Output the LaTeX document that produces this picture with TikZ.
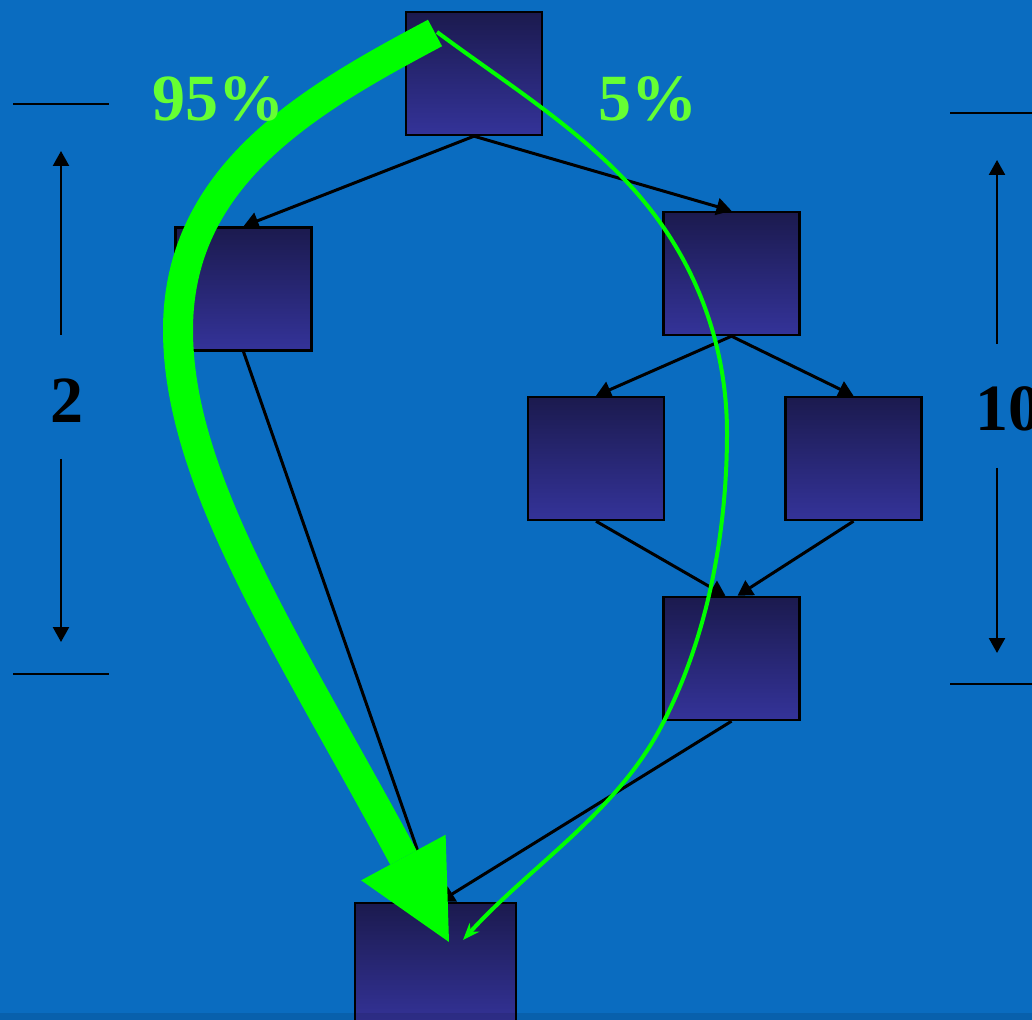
\documentclass[tikz,border=0pt]{standalone}
\usepackage{fontspec}
\setmainfont{Liberation Serif}
\usetikzlibrary{arrows.meta,calc}
\definecolor{bgblue}{HTML}{0A6CC0}
\definecolor{boxtop}{HTML}{1B1A4E}
\definecolor{boxbot}{HTML}{343399}
\definecolor{arrowgreen}{HTML}{00FF00}
\definecolor{labelgreen}{HTML}{66FF33}
\begin{document}
\begin{tikzpicture}[x=0.5pt,y=-0.5pt,
  blk/.style={rectangle, draw=black, line width=1.2pt, top color=boxtop, bottom color=boxbot, minimum width=68pt, minimum height=61.5pt, inner sep=0pt},
  link/.style={draw=black, line width=1.5pt, -{Triangle[length=7.5pt,width=8.5pt]}},
  dimtick/.style={draw=black, line width=1.2pt},
  dimarrow/.style={draw=black, line width=1.2pt, -{Triangle[length=7.5pt,width=8pt]}},
  major/.style={draw=arrowgreen, line width=15pt, -{Triangle[length=48pt,width=48pt,line width=0pt]}},
  minor/.style={draw=arrowgreen, line width=2pt, -{Stealth[length=8.5pt,width=6.5pt]}},
  pct/.style={text=labelgreen, font=\bfseries\fontsize{33}{40}\selectfont, inner sep=0pt},
  num/.style={text=black, font=\bfseries\fontsize{33}{40}\selectfont, inner sep=0pt}]
\useasboundingbox (0,0) rectangle (1032,1020);
\fill[bgblue] (0,0) rectangle (1032,1020);

% boxes
\node[blk] (A) at (474,73.5) {};
\node[blk] (B) at (243.5,289) {};
\node[blk] (C) at (731.5,273.5) {};
\node[blk] (D) at (596,458.5) {};
\node[blk] (E) at (853.5,458.5) {};
\node[blk] (F) at (731.5,658.5) {};
\node[blk, minimum width=80.5pt] (G) at (435.5,964.5) {};

% black connectors
\draw[link] (A.south) -- (B.north);
\draw[link] (A.south) -- (C.north);
\draw[link] (C.south) -- (D.north);
\draw[link] (C.south) -- (E.north);
\draw[link] (D.south) -- ([xshift=-3pt]F.north);
\draw[link] (E.south) -- ([xshift=3pt]F.north);
\draw[link] (B.south) -- (G.north);
\draw[link] (F.south) -- ([xshift=2pt]G.north);

% green flows
\coordinate (ts) at (437,32);
\coordinate (tt) at (463,940);
\draw[minor] (ts) .. controls (500,79) and (568,121) .. (623,178)
  .. controls (693,250) and (727,341) .. (727,433)
  .. controls (727,531) and (708,636) .. (663,723)
  .. controls (618,812) and (530,866) .. (tt);
\coordinate (gs) at (435,33);
\coordinate (gt) at (449,942);
\draw[major] (gs) .. controls (309,100) and (178,175) .. (178,330)
  .. controls (178,480) and (287,642) .. (gt);

% dimension markers, left
\coordinate (lt1) at (13,104); \coordinate (lt2) at (109,104);
\coordinate (lb1) at (13,674); \coordinate (lb2) at (109,674);
\draw[dimtick] (lt1) -- (lt2);
\draw[dimtick] (lb1) -- (lb2);
\node[num] (two) at (66.5,401) {2};
\coordinate (lu0) at (61,335); \coordinate (lu1) at (61,151);
\coordinate (ld0) at (61,459); \coordinate (ld1) at (61,642);
\draw[dimarrow] (lu0) -- (lu1);
\draw[dimarrow] (ld0) -- (ld1);

% dimension markers, right
\coordinate (rt1) at (950,113); \coordinate (rt2) at (1032,113);
\coordinate (rb1) at (950,684); \coordinate (rb2) at (1032,684);
\draw[dimtick] (rt1) -- (rt2);
\draw[dimtick] (rb1) -- (rb2);
\node[num, anchor=west] (ten) at (975,409) {10};
\coordinate (ru0) at (997,344); \coordinate (ru1) at (997,160);
\coordinate (rd0) at (997,468); \coordinate (rd1) at (997,653);
\draw[dimarrow] (ru0) -- (ru1);
\draw[dimarrow] (rd0) -- (rd1);

% percentages
\node[pct] (p95) at (218.5,98.5) {95\%};
\node[pct] (p5) at (647.5,98.5) {5\%};

% bottom band
\fill[black, opacity=0.1] (0,1013) rectangle (1032,1020);
\end{tikzpicture}
\end{document}
